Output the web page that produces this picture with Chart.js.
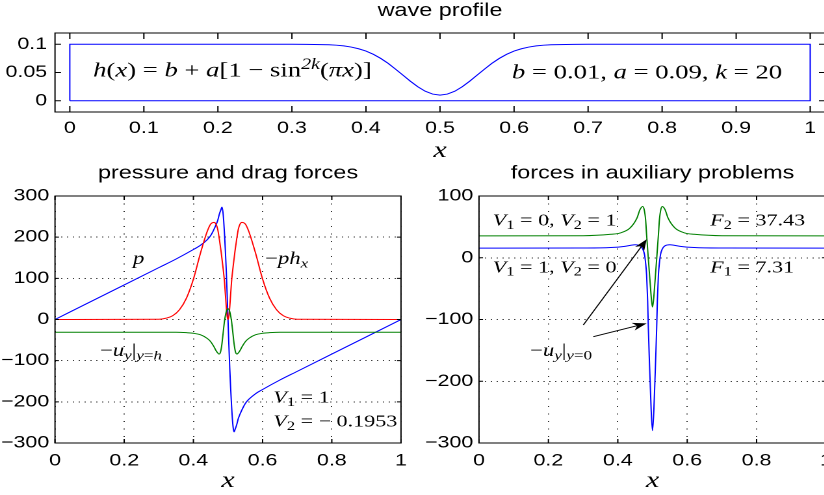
<!DOCTYPE html>
<html>
<head>
<meta charset="utf-8">
<script src="https://cdn.jsdelivr.net/npm/chart.js@4.4.1/dist/chart.umd.min.js"></script>
<style>
html, body { margin: 0; padding: 0; background: #fff; overflow: hidden; width: 824px; height: 495px; }
.panel { position: absolute; transform-origin: 0 0; }
</style>
</head>
<body>
<div class="panel" id="top"><canvas></canvas></div>
<div class="panel" id="left"><canvas></canvas></div>
<div class="panel" id="right"><canvas></canvas></div>
<script>
// wave profile h(x), closed outline (bottom y=0, sides, top curve)
const profileX = [0, 0, 0.1, 0.2, 0.3, 0.32, 0.34, 0.35, 0.36, 0.37, 0.38, 0.39, 0.40, 0.41, 0.42, 0.43, 0.44, 0.45, 0.46, 0.47, 0.48, 0.49, 0.50,
  0.51, 0.52, 0.53, 0.54, 0.55, 0.56, 0.57, 0.58, 0.59, 0.60, 0.61, 0.62, 0.63, 0.64, 0.65, 0.66, 0.68, 0.7, 0.8, 0.9, 1, 1, 0];
const profileY = [0, 0.1, 0.1, 0.1, 0.1, 0.0999, 0.0995, 0.0991, 0.0984, 0.0971, 0.0951, 0.0921, 0.0880, 0.0822, 0.0749, 0.0661, 0.0559, 0.0452, 0.0345, 0.0247, 0.0168, 0.0118, 0.0100,
  0.0118, 0.0168, 0.0247, 0.0345, 0.0452, 0.0559, 0.0661, 0.0749, 0.0822, 0.0880, 0.0921, 0.0951, 0.0971, 0.0984, 0.0991, 0.0995, 0.0999, 0.1, 0.1, 0.1, 0.1, 0, 0];

// pressure and drag forces
const pX = [0, 0.1, 0.2, 0.3, 0.35, 0.4, 0.42, 0.44, 0.45, 0.46, 0.47, 0.475, 0.48, 0.4825, 0.485, 0.4875, 0.49, 0.4925, 0.495, 0.4975, 0.5,
  0.5025, 0.505, 0.5075, 0.51, 0.5125, 0.515, 0.5175, 0.52, 0.525, 0.53, 0.54, 0.55, 0.56, 0.58, 0.6, 0.65, 0.7, 0.8, 0.9, 1];
const pY = [0, 42, 84, 126, 147, 170, 180, 194, 204, 220, 240, 256, 268, 273, 263, 240, 206, 165, 118, 62, 0,
  -62, -118, -165, -206, -240, -263, -273, -268, -256, -240, -220, -204, -194, -180, -170, -147, -126, -84, -42, 0];
const phxX = [0, 0.3, 0.32, 0.34, 0.36, 0.38, 0.40, 0.42, 0.44, 0.45, 0.46, 0.465, 0.47, 0.475, 0.48, 0.485, 0.49, 0.495, 0.4975, 0.5,
  0.5025, 0.505, 0.51, 0.515, 0.52, 0.525, 0.53, 0.535, 0.54, 0.55, 0.56, 0.58, 0.60, 0.62, 0.64, 0.66, 0.68, 0.7, 1];
const phxY = [0, 0.5, 3, 9, 24, 52, 98, 160, 214, 232, 236, 232, 220, 195, 165, 130, 90, 30, 8, 0,
  8, 30, 90, 130, 165, 195, 220, 232, 236, 232, 214, 160, 98, 52, 24, 9, 3, 0.5, 0];
const uyX = [0, 0.35, 0.38, 0.40, 0.42, 0.44, 0.45, 0.46, 0.465, 0.47, 0.474, 0.478, 0.482, 0.486, 0.49, 0.494, 0.497, 0.5,
  0.503, 0.506, 0.51, 0.514, 0.518, 0.522, 0.526, 0.53, 0.535, 0.54, 0.55, 0.56, 0.58, 0.60, 0.62, 0.65, 1];
const uyY = [-31, -31, -32, -33.5, -37, -46, -54, -67, -75, -81, -84, -80, -62, -32, -3, 16, 24, 26,
  24, 16, -3, -32, -62, -80, -84, -81, -75, -67, -54, -46, -37, -33.5, -32, -31, -31];

// forces in auxiliary problems
const f1X = [0, 0.3, 0.38, 0.42, 0.44, 0.45, 0.465, 0.472, 0.477, 0.48, 0.483, 0.486, 0.488, 0.4905, 0.4928, 0.496, 0.5,
  0.504, 0.5072, 0.5095, 0.512, 0.514, 0.517, 0.52, 0.523, 0.528, 0.535, 0.55, 0.56, 0.58, 0.62, 0.7, 1];
const f1Y = [15.5, 15.7, 16.5, 18.5, 20.5, 21, 19, 14, 5, -8, -28, -70, -114, -158, -195, -245, -280,
  -245, -195, -158, -114, -70, -28, -8, 5, 14, 19, 21, 20.5, 18.5, 16.5, 15.7, 15.5];
const f2X = [0, 0.3, 0.38, 0.406, 0.435, 0.455, 0.464, 0.4717, 0.476, 0.48, 0.483, 0.488, 0.4928, 0.497, 0.5,
  0.503, 0.5072, 0.512, 0.517, 0.52, 0.524, 0.5283, 0.536, 0.545, 0.565, 0.594, 0.62, 0.7, 1];
const f2Y = [35.5, 35.7, 38, 40, 48, 64, 78, 83, 78, 62, 37, -2, -38, -68, -80,
  -68, -38, -2, 37, 62, 78, 83, 78, 64, 48, 40, 38, 35.7, 35.5];

// tick values
const topXTicks = [0, 0.1, 0.2, 0.3, 0.4, 0.5, 0.6, 0.7, 0.8, 0.9, 1];
const topYTicks = [0, 0.05, 0.1];
const botXTicks = [0, 0.2, 0.4, 0.6, 0.8, 1];
const leftYTicks = [-300, -200, -100, 0, 100, 200, 300];
const rightYTicks = [-300, -200, -100, 0, 100];

// the original figure is stretched horizontally
const S = 1.3;

Chart.defaults.font.family = '"Liberation Sans", Arial, sans-serif';
Chart.defaults.font.size = 16.5;
Chart.defaults.color = '#000';

const fmt = v => (v < 0 ? '\u2212' + Math.abs(v) : String(v));

function drawMath(ctx, parts, x, y, size, align) {
  const items = parts.map(([t, f]) => {
    const small = f.includes('b') || f.includes('p');
    const font = (f.includes('i') ? 'italic ' : '') + (small ? size * 0.75 : size) + 'px "Liberation Serif", serif';
    ctx.font = font;
    const dy = f.includes('b') ? size * 0.2 : (f.includes('p') ? -size * 0.38 : 0);
    return { t, font, dy, w: ctx.measureText(t).width };
  });
  let cx = x;
  if (align === 'right') cx -= items.reduce((s, it) => s + it.w, 0);
  ctx.textAlign = 'left';
  ctx.textBaseline = 'alphabetic';
  for (const it of items) {
    ctx.font = it.font;
    ctx.fillText(it.t, cx, y + it.dy);
    cx += it.w;
  }
}

function arrow(ctx, x1, y1, x2, y2) {
  const a = Math.atan2(y2 - y1, x2 - x1), c = Math.cos(a), s = Math.sin(a);
  const L = 11, W = 4;
  ctx.beginPath();
  ctx.moveTo(x1, y1);
  ctx.lineTo(x2 - L * 0.7 * c, y2 - L * 0.7 * s);
  ctx.stroke();
  ctx.beginPath();
  ctx.moveTo(x2, y2);
  ctx.lineTo(x2 - L * c + W * s, y2 - L * s - W * c);
  ctx.lineTo(x2 - L * 0.7 * c, y2 - L * 0.7 * s);
  ctx.lineTo(x2 - L * c - W * s, y2 - L * s + W * c);
  ctx.closePath();
  ctx.fill();
}

function deco(o) {
  return {
    id: 'deco',
    afterDraw(chart) {
      const { ctx, chartArea: a, scales: { x, y } } = chart;
      ctx.save();
      ctx.strokeStyle = '#000';
      ctx.fillStyle = '#000';
      ctx.lineWidth = 1;
      ctx.strokeRect(a.left, a.top, a.right - a.left, a.bottom - a.top);
      // inner tick marks on all four sides
      ctx.beginPath();
      for (const v of o.xt) {
        const px = x.getPixelForValue(v);
        ctx.moveTo(px, a.bottom); ctx.lineTo(px, a.bottom - o.tickLen);
        ctx.moveTo(px, a.top); ctx.lineTo(px, a.top + o.tickLen);
      }
      for (const v of o.yt) {
        const py = y.getPixelForValue(v);
        ctx.moveTo(a.left, py); ctx.lineTo(a.left + o.tickLen / S, py);
        ctx.moveTo(a.right, py); ctx.lineTo(a.right - o.tickLen / S, py);
      }
      ctx.stroke();
      // title
      ctx.font = '18px "Liberation Sans", Arial, sans-serif';
      ctx.textAlign = 'center';
      ctx.textBaseline = 'middle';
      ctx.fillText(o.title, (a.left + a.right) / 2, o.titleY);
      // x axis label
      ctx.font = 'italic 23px "Liberation Serif", serif';
      ctx.textBaseline = 'alphabetic';
      ctx.fillText('x', (a.left + a.right) / 2, o.xLabelY);
      // annotations
      for (const n of o.notes) {
        drawMath(ctx, n.parts, x.getPixelForValue(n.x), y.getPixelForValue(n.y), n.size, n.align);
      }
      ctx.lineWidth = 0.9;
      for (const ar of o.arrows || []) {
        arrow(ctx, x.getPixelForValue(ar[0]), y.getPixelForValue(ar[1]), x.getPixelForValue(ar[2]), y.getPixelForValue(ar[3]));
      }
      ctx.restore();
    }
  };
}

function makeChart(id, box, area, o) {
  const wrap = document.getElementById(id);
  const w = box.w / S;
  wrap.style.cssText = `left:${box.x}px;top:${box.y}px;width:${w}px;height:${box.h}px;transform:scaleX(${S})`;
  const cv = wrap.querySelector('canvas');
  cv.width = w;
  cv.height = box.h;
  cv.style.width = w + 'px';
  cv.style.height = box.h + 'px';
  const yW = (area.l - box.x) / S;
  const xH = box.y + box.h - area.b;
  return new Chart(cv, {
    type: 'scatter',
    data: {
      datasets: o.series.map(s => ({
        data: s.x.map((v, i) => ({ x: v, y: s.y[i] })),
        borderColor: s.color,
        borderWidth: 1,
        pointRadius: 0,
        showLine: true,
        fill: false,
        cubicInterpolationMode: s.smooth ? 'monotone' : 'default'
      }))
    },
    options: {
      responsive: false,
      animation: false,
      devicePixelRatio: 2,
      layout: { padding: { left: 0, top: area.t - box.y, right: w - (area.r - box.x) / S, bottom: 0 } },
      plugins: { legend: { display: false }, tooltip: { enabled: false } },
      scales: {
        x: {
          type: 'linear', min: o.xMin, max: o.xMax,
          afterBuildTicks: s => { s.ticks = o.xt.map(v => ({ value: v })); },
          afterFit: s => { s.height = xH; s.paddingLeft = 0; s.paddingRight = 0; },
          ticks: { padding: o.xPad, autoSkip: false, maxRotation: 0, callback: fmt },
          grid: { display: o.grid, color: '#000', lineWidth: 0.8, drawTicks: false },
          border: { display: false, dash: [1, 6.5] }
        },
        y: {
          type: 'linear', min: o.yMin, max: o.yMax,
          afterBuildTicks: s => { s.ticks = o.yt.map(v => ({ value: v })); },
          afterFit: s => { s.width = yW; s.paddingTop = 0; s.paddingBottom = 0; },
          ticks: { padding: o.yPad, autoSkip: false, callback: fmt },
          grid: { display: o.grid, color: '#000', lineWidth: 0.8, drawTicks: false },
          border: { display: false, dash: [1, 3.5] }
        }
      }
    },
    plugins: [deco(o)]
  });
}

makeChart('top', { x: 0, y: 0, w: 832, h: 165 }, { l: 55, t: 33, r: 825, b: 112 }, {
  xMin: -0.02, xMax: 1.02, yMin: -0.02, yMax: 0.12,
  xt: topXTicks, yt: topYTicks, xPad: 6.5, yPad: 6, grid: false, tickLen: 6,
  title: 'wave profile', titleY: 11, xLabelY: 157,
  series: [{ x: profileX, y: profileY, color: '#0000ff' }],
  notes: [
    { x: 0.0315, y: 0.0425, size: 20.5, parts: [['h', 'i'], ['(', ''], ['x', 'i'], [')', ''], [' = ', ''], ['b', 'i'], [' + ', ''], ['a', 'i'], ['[1 \u2212 sin', ''], ['2k', 'ip'], ['(', ''], ['\u03c0x', 'i'], [')]', '']] },
    { x: 0.962, y: 0.039, size: 20.5, align: 'right', parts: [['b', 'i'], [' = 0.01, ', ''], ['a', 'i'], [' = 0.09, ', ''], ['k', 'i'], [' = 20', '']] }
  ]
});

makeChart('left', { x: 0, y: 160, w: 416, h: 335 }, { l: 55, t: 196, r: 401, b: 443 }, {
  xMin: 0, xMax: 1, yMin: -300, yMax: 300,
  xt: botXTicks, yt: leftYTicks, xPad: 8, yPad: 4.4, grid: true, tickLen: 4,
  title: 'pressure and drag forces', titleY: 13.5, xLabelY: 327,
  series: [
    { x: uyX, y: uyY, color: '#008000', smooth: true },
    { x: phxX, y: phxY, color: '#ff0000', smooth: true },
    { x: pX, y: pY, color: '#0000ff', smooth: true }
  ],
  notes: [
    { x: 0.225, y: 135, size: 17.5, parts: [['p', 'i']] },
    { x: 0.607, y: 135, size: 17.5, parts: [['\u2212', ''], ['ph', 'i'], ['x', 'ib']] },
    { x: 0.13, y: -88.6, size: 17.5, parts: [['\u2212', ''], ['u', 'i'], ['y', 'ib'], ['|', ''], ['y', 'ib'], ['=', 'b'], ['h', 'ib']] },
    { x: 0.631, y: -202, size: 17, parts: [['V', 'i'], ['1', 'b'], [' = 1', '']] },
    { x: 0.631, y: -260, size: 17, parts: [['V', 'i'], ['2', 'b'], [' = \u2212 0.1953', '']] }
  ]
});

makeChart('right', { x: 416, y: 160, w: 416, h: 335 }, { l: 479, t: 196, r: 826, b: 443 }, {
  xMin: 0, xMax: 1, yMin: -300, yMax: 100,
  xt: botXTicks, yt: rightYTicks, xPad: 8, yPad: 4.4, grid: true, tickLen: 4,
  title: 'forces in auxiliary problems', titleY: 13.5, xLabelY: 327,
  series: [
    { x: f2X, y: f2Y, color: '#008000', smooth: true },
    { x: f1X, y: f1Y, color: '#0000ff', smooth: true }
  ],
  notes: [
    { x: 0.0395, y: 51.9, size: 17, parts: [['V', 'i'], ['1', 'b'], [' = 0, ', ''], ['V', 'i'], ['2', 'b'], [' = 1', '']] },
    { x: 0.666, y: 51.9, size: 17, parts: [['F', 'i'], ['2', 'b'], [' = 37.43', '']] },
    { x: 0.0395, y: -23.6, size: 17, parts: [['V', 'i'], ['1', 'b'], [' = 1, ', ''], ['V', 'i'], ['2', 'b'], [' = 0', '']] },
    { x: 0.666, y: -23.6, size: 17, parts: [['F', 'i'], ['1', 'b'], [' = 7.31', '']] },
    { x: 0.147, y: -159, size: 17.5, parts: [['\u2212', ''], ['u', 'i'], ['y', 'ib'], ['|', ''], ['y', 'ib'], ['=', 'b'], ['0', 'b']] }
  ],
  arrows: [[0.3006, -108.9, 0.4833, 29.9], [0.3294, -127.8, 0.4833, -106.2]]
});
</script>
</body>
</html>
